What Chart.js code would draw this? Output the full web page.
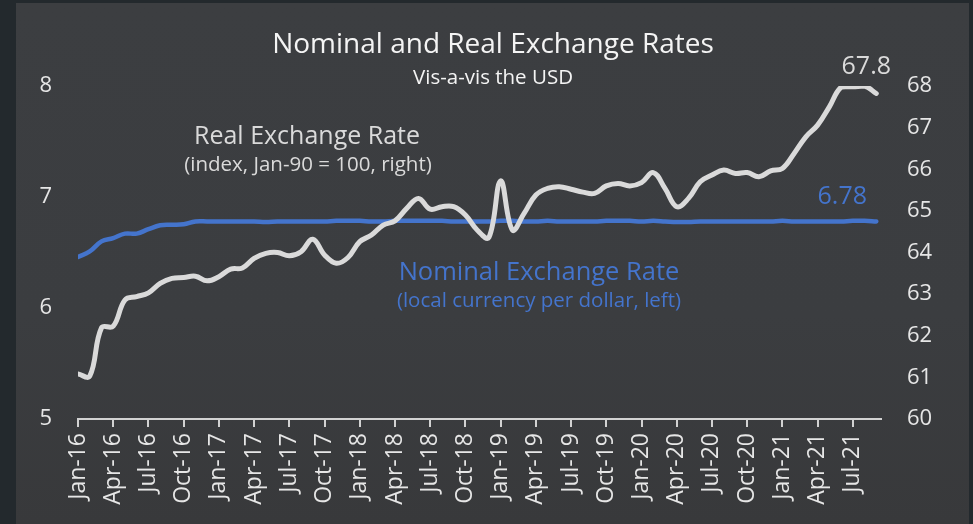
<!DOCTYPE html>
<html>
<head>
<meta charset="utf-8">
<script src="https://cdn.jsdelivr.net/npm/chart.js@4.4.1/dist/chart.umd.min.js"></script>
<style>
  html, body { margin: 0; padding: 0; }
  body { width: 973px; height: 524px; background: #23292d; overflow: hidden; position: relative; }
  #panel {
    position: absolute; left: 16px; top: 3px; width: 953px; height: 521px;
    background: linear-gradient(#3c3e41 0%, #3b3d40 60%, #38393b 100%);
  }
  #wrap { position: absolute; left: 0; top: 0; width: 973px; height: 524px; }
</style>
</head>
<body>
<div id="panel"></div>
<div id="wrap"><canvas id="myChart"></canvas></div>
<script>
// quarterly tick labels on the x axis (one every 3 months, starting Jan-16)
const tickLabels = [
  "Jan-16","Apr-16","Jul-16","Oct-16",
  "Jan-17","Apr-17","Jul-17","Oct-17",
  "Jan-18","Apr-18","Jul-18","Oct-18",
  "Jan-19","Apr-19","Jul-19","Oct-19",
  "Jan-20","Apr-20","Jul-20","Oct-20",
  "Jan-21","Apr-21","Jul-21"
];

// monthly values, Jan-16 .. Sep-21
const realRate = [
  61.08, 61.03, 62.19, 62.23, 62.86, 62.94, 63.03, 63.26, 63.38, 63.40, 63.43, 63.32,
  63.42, 63.60, 63.63, 63.86, 63.98, 64.00, 63.92, 64.02, 64.32, 63.94, 63.74, 63.88,
  64.26, 64.42, 64.66, 64.76, 65.06, 65.30, 65.04, 65.10, 65.10, 64.90, 64.54, 64.36,
  65.72, 64.54, 64.94, 65.38, 65.54, 65.58, 65.52, 65.45, 65.42, 65.60, 65.66, 65.60,
  65.68, 65.92, 65.54, 65.10, 65.30, 65.70, 65.86, 65.98, 65.90, 65.92, 65.82, 65.96,
  66.02, 66.38, 66.78, 67.06, 67.50, 67.97, 67.98, 68.00, 67.82
];

const nominalRate = [
  6.46, 6.51, 6.60, 6.63, 6.67, 6.67, 6.71, 6.745, 6.75, 6.755, 6.78, 6.78,
  6.78, 6.78, 6.78, 6.78, 6.775, 6.78, 6.78, 6.78, 6.78, 6.78, 6.785, 6.785,
  6.785, 6.78, 6.78, 6.785, 6.785, 6.785, 6.785, 6.785, 6.78, 6.78, 6.78, 6.78,
  6.785, 6.785, 6.78, 6.78, 6.785, 6.78, 6.78, 6.78, 6.78, 6.785, 6.785, 6.785,
  6.78, 6.785, 6.78, 6.775, 6.775, 6.78, 6.78, 6.78, 6.78, 6.78, 6.78, 6.78,
  6.785, 6.78, 6.78, 6.78, 6.78, 6.78, 6.785, 6.785, 6.78
];

const lastReal = "67.8";
const lastNominal = "6.78";

const FONT = "'Open Sans', 'Noto Sans', sans-serif";
const TICK_COLOR = "#e6e6e6";
const REAL_COLOR = "#dadada";
const BLUE = "#4474cc";

function toPoints(arr) {
  return arr.map((v, i) => ({ x: i, y: v }));
}

// titles and in-chart labels
const textPlugin = {
  id: "texts",
  afterDraw(chart) {
    const ctx = chart.ctx;
    const xs = chart.scales.x, yl = chart.scales.y, yr = chart.scales.y1;
    ctx.save();
    ctx.textAlign = "center";
    ctx.textBaseline = "middle";

    ctx.fillStyle = "#f4f4f4";
    ctx.font = "28px " + FONT;
    ctx.fillText("Nominal and Real Exchange Rates", 493, 45);
    ctx.font = "20.5px " + FONT;
    ctx.fillText("Vis-a-vis the USD", 493, 78);

    ctx.fillStyle = REAL_COLOR;
    ctx.font = "25px " + FONT;
    ctx.fillText("Real Exchange Rate", 307, 137);
    ctx.font = "20.5px " + FONT;
    ctx.fillText("(index, Jan-90 = 100, right)", 308, 165);

    ctx.fillStyle = BLUE;
    ctx.font = "25.5px " + FONT;
    ctx.fillText("Nominal Exchange Rate", 539, 273);
    ctx.font = "20.5px " + FONT;
    ctx.fillText("(local currency per dollar, left)", 539, 301);

    // end-of-series value labels, placed from the last data point
    const n = realRate.length - 1;
    const px = xs.getPixelForValue(n);
    ctx.font = "25px " + FONT;
    ctx.fillStyle = REAL_COLOR;
    ctx.fillText(lastReal, px - 10, yr.getPixelForValue(realRate[n]) - 27);
    ctx.fillStyle = BLUE;
    ctx.fillText(lastNominal, px - 34, yl.getPixelForValue(nominalRate[n]) - 25);
    ctx.restore();
  }
};

const canvas = document.getElementById("myChart");
const ctx = canvas.getContext("2d");

new Chart(ctx, {
  type: "line",
  data: {
    datasets: [
      {
        label: "Real Exchange Rate",
        data: toPoints(realRate),
        yAxisID: "y1",
        borderColor: REAL_COLOR,
        borderWidth: 5,
        tension: 0.4,
        pointRadius: 0,
        borderCapStyle: "round",
        borderJoinStyle: "round"
      },
      {
        label: "Nominal Exchange Rate",
        data: toPoints(nominalRate),
        yAxisID: "y",
        borderColor: BLUE,
        borderWidth: 4.5,
        tension: 0.4,
        pointRadius: 0,
        borderCapStyle: "round"
      }
    ]
  },
  options: {
    responsive: true,
    maintainAspectRatio: false,
    animation: false,
    layout: { padding: { top: 86, left: 0, right: 0, bottom: 0 } },
    plugins: {
      legend: { display: false },
      tooltip: { enabled: false }
    },
    scales: {
      x: {
        type: "linear",
        min: 0,
        max: 68.4,
        afterBuildTicks: (scale) => {
          scale.ticks = tickLabels.map((_, k) => ({ value: k * 3 }));
        },
        afterFit: (scale) => { scale.height = 105; },
        ticks: {
          autoSkip: false,
          maxRotation: 90,
          minRotation: 90,
          padding: 6,
          color: TICK_COLOR,
          font: { family: FONT, size: 23 },
          callback: (v) => tickLabels[v / 3] || ""
        },
        grid: {
          display: true,
          drawOnChartArea: false,
          drawTicks: true,
          tickLength: 8,
          color: "#d2d2d2",
          lineWidth: 2
        },
        border: { display: true, color: "#d2d2d2", width: 2 }
      },
      y: {
        position: "left",
        min: 5,
        max: 8,
        afterFit: (scale) => { scale.width = 78; },
        ticks: {
          stepSize: 1,
          padding: 18,
          color: TICK_COLOR,
          font: { family: FONT, size: 22 }
        },
        grid: { display: false },
        border: { display: false }
      },
      y1: {
        position: "right",
        min: 60,
        max: 68,
        afterFit: (scale) => { scale.width = 92; },
        ticks: {
          stepSize: 1,
          padding: 18,
          color: TICK_COLOR,
          font: { family: FONT, size: 22 }
        },
        grid: { display: false },
        border: { display: false }
      }
    }
  },
  plugins: [textPlugin]
});
</script>
</body>
</html>
